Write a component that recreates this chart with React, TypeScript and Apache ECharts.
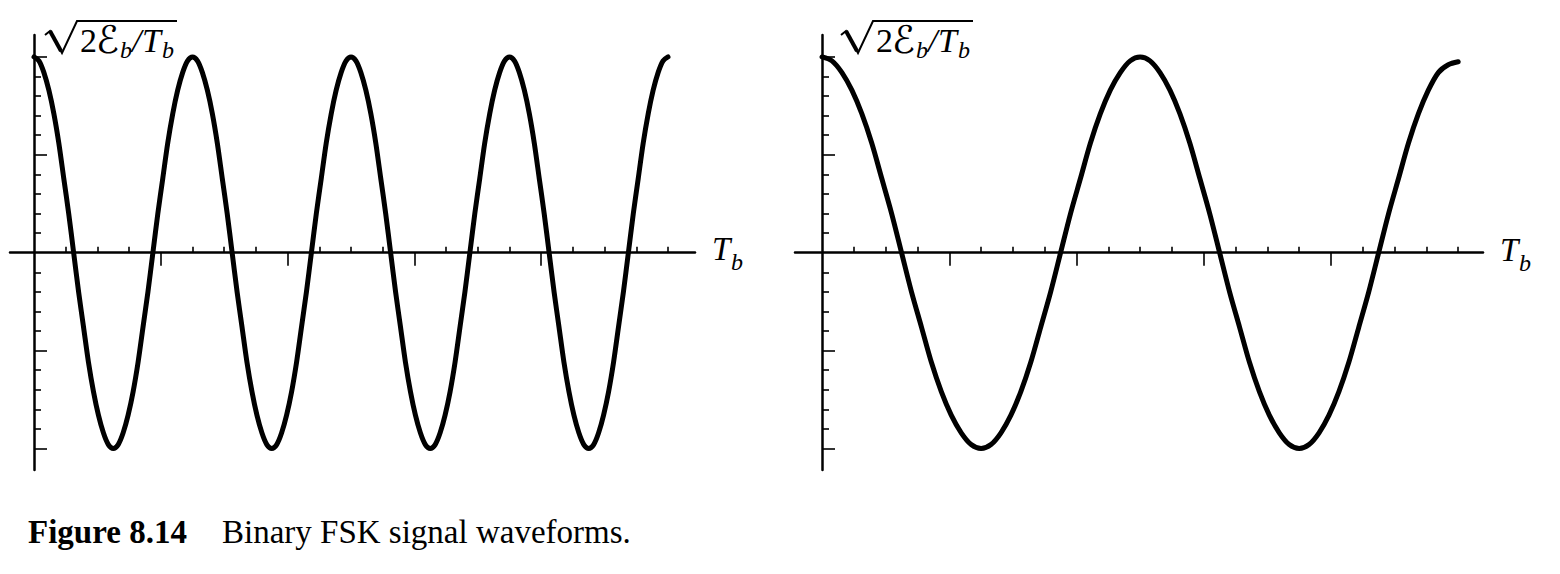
import React, { useEffect, useRef } from "react";
import * as echarts from "echarts";

// Sample points (time in units of T_b, amplitude in units of sqrt(2Eb/Tb))
const leftT = [
  0, 0.0078, 0.0156, 0.0234, 0.0313, 0.0391, 0.0469, 0.0547, 0.0625, 0.0703, 0.0781, 0.0859,
  0.0938, 0.1016, 0.1094, 0.1172, 0.125, 0.1328, 0.1406, 0.1484, 0.1563, 0.1641, 0.1719, 0.1797,
  0.1875, 0.1953, 0.2031, 0.2109, 0.2188, 0.2266, 0.2344, 0.2422, 0.25, 0.2578, 0.2656, 0.2734,
  0.2813, 0.2891, 0.2969, 0.3047, 0.3125, 0.3203, 0.3281, 0.3359, 0.3438, 0.3516, 0.3594, 0.3672,
  0.375, 0.3828, 0.3906, 0.3984, 0.4063, 0.4141, 0.4219, 0.4297, 0.4375, 0.4453, 0.4531, 0.4609,
  0.4688, 0.4766, 0.4844, 0.4922, 0.5, 0.5078, 0.5156, 0.5234, 0.5313, 0.5391, 0.5469, 0.5547,
  0.5625, 0.5703, 0.5781, 0.5859, 0.5938, 0.6016, 0.6094, 0.6172, 0.625, 0.6328, 0.6406, 0.6484,
  0.6563, 0.6641, 0.6719, 0.6797, 0.6875, 0.6953, 0.7031, 0.7109, 0.7188, 0.7266, 0.7344, 0.7422,
  0.75, 0.7578, 0.7656, 0.7734, 0.7813, 0.7891, 0.7969, 0.8047, 0.8125, 0.8203, 0.8281, 0.8359,
  0.8438, 0.8516, 0.8594, 0.8672, 0.875, 0.8828, 0.8906, 0.8984, 0.9063, 0.9141, 0.9219, 0.9297,
  0.9375, 0.9453, 0.9531, 0.9609, 0.9688, 0.9766, 0.9844, 0.9922, 1,
];
const leftV = [
  1, 0.98, 0.92, 0.83, 0.71, 0.56, 0.38, 0.2, 0, -0.2, -0.38, -0.56, -0.71, -0.83, -0.92, -0.98,
  -1, -0.98, -0.92, -0.83, -0.71, -0.56, -0.38, -0.2, 0, 0.2, 0.38, 0.56, 0.71, 0.83, 0.92, 0.98,
  1, 0.98, 0.92, 0.83, 0.71, 0.56, 0.38, 0.2, 0, -0.2, -0.38, -0.56, -0.71, -0.83, -0.92, -0.98,
  -1, -0.98, -0.92, -0.83, -0.71, -0.56, -0.38, -0.2, 0, 0.2, 0.38, 0.56, 0.71, 0.83, 0.92, 0.98,
  1, 0.98, 0.92, 0.83, 0.71, 0.56, 0.38, 0.2, 0, -0.2, -0.38, -0.56, -0.71, -0.83, -0.92, -0.98,
  -1, -0.98, -0.92, -0.83, -0.71, -0.56, -0.38, -0.2, 0, 0.2, 0.38, 0.56, 0.71, 0.83, 0.92, 0.98,
  1, 0.98, 0.92, 0.83, 0.71, 0.56, 0.38, 0.2, 0, -0.2, -0.38, -0.56, -0.71, -0.83, -0.92, -0.98,
  -1, -0.98, -0.92, -0.83, -0.71, -0.56, -0.38, -0.2, 0, 0.2, 0.38, 0.56, 0.71, 0.83, 0.92, 0.98,
  1,
];
const rightT = [
  0, 0.0156, 0.0313, 0.0469, 0.0625, 0.0781, 0.0938, 0.1094, 0.125, 0.1406, 0.1563, 0.1719,
  0.1875, 0.2031, 0.2188, 0.2344, 0.25, 0.2656, 0.2813, 0.2969, 0.3125, 0.3281, 0.3438, 0.3594,
  0.375, 0.3906, 0.4063, 0.4219, 0.4375, 0.4531, 0.4688, 0.4844, 0.5, 0.5156, 0.5313, 0.5469,
  0.5625, 0.5781, 0.5938, 0.6094, 0.625, 0.6406, 0.6563, 0.6719, 0.6875, 0.7031, 0.7188, 0.7344,
  0.75, 0.7656, 0.7813, 0.7969, 0.8125, 0.8281, 0.8438, 0.8594, 0.875, 0.8906, 0.9063, 0.9219,
  0.9375, 0.9531, 0.9688, 0.9844, 1,
];
const rightV = [
  1, 0.98, 0.92, 0.83, 0.71, 0.56, 0.38, 0.2, 0, -0.2, -0.38, -0.56, -0.71, -0.83, -0.92, -0.98,
  -1, -0.98, -0.92, -0.83, -0.71, -0.56, -0.38, -0.2, 0, 0.2, 0.38, 0.56, 0.71, 0.83, 0.92, 0.98,
  1, 0.98, 0.92, 0.83, 0.71, 0.56, 0.38, 0.2, 0, -0.2, -0.38, -0.56, -0.71, -0.83, -0.92, -0.98,
  -1, -0.98, -0.92, -0.83, -0.71, -0.56, -0.38, -0.2, 0, 0.2, 0.38, 0.56, 0.71, 0.83, 0.92, 0.96,
  0.975,
];

// Tick marks
const xMinorTicks = [0.05, 0.1, 0.15, 0.25, 0.3, 0.35, 0.45, 0.5, 0.55, 0.65, 0.7, 0.75, 0.85, 0.9, 0.95, 1];
const xMajorTicks = [0.2, 0.4, 0.6, 0.8];
const yMinorTicks = [-0.9, -0.8, -0.7, -0.6, -0.4, -0.3, -0.2, -0.1, 0.1, 0.2, 0.3, 0.4, 0.6, 0.7, 0.8, 0.9];
const yMajorTicks = [-1, -0.5, 0.5, 1];

const amplitudeLabel = ["2", "ℰ", "b", "/", "T", "b"];
const timeLabel = ["T", "b"];
const captionBold = "Figure 8.14";
const captionText = "Binary FSK signal waveforms.";

const SERIF = '"Liberation Serif", "Times New Roman", "DejaVu Serif", serif';

function txt(x: number, baseline: number, text: string, size: number, fontStyle = "normal", fontWeight = "normal", family = SERIF) {
  return {
    type: "text",
    x,
    y: baseline - 0.3375 * size,
    silent: true,
    style: {
      text,
      fontSize: size,
      fontFamily: family,
      fontStyle,
      fontWeight,
      fill: "#000",
      align: "left",
      verticalAlign: "middle",
    },
  };
}

function radicalLabel(dx: number) {
  const [two, E, b1, slash, T, b2] = amplitudeLabel;
  return [
    {
      type: "polyline",
      silent: true,
      shape: { points: [[45 + dx, 35], [50 + dx, 31], [62 + dx, 53], [77 + dx, 21], [177 + dx, 21]] },
      style: { stroke: "#000", lineWidth: 2, fill: null, lineJoin: "miter" },
    },
    {
      type: "line",
      silent: true,
      shape: { x1: 50 + dx, y1: 31, x2: 61 + dx, y2: 51 },
      style: { stroke: "#000", lineWidth: 4 },
    },
    txt(80 + dx, 52, two, 34),
    txt(96 + dx, 53, E, 38, "normal", "normal", '"DejaVu Serif", "DejaVu Sans", serif'),
    txt(120 + dx, 58, b1, 24, "italic"),
    txt(132 + dx, 52, slash, 34, "italic"),
    txt(142 + dx, 52, T, 34, "italic"),
    txt(162 + dx, 58, b2, 24, "italic"),
  ];
}

function timeLbl(x: number, baseline: number) {
  return [txt(x, baseline, timeLabel[0], 33, "italic"), txt(x + 19, baseline + 10, timeLabel[1], 24, "italic")];
}

function axesFor(gridIndex: number, xmin: number, xmax: number) {
  const tickStyle = { color: "#000", width: 1.6 };
  const common = { type: "value", gridIndex, axisLabel: { show: false }, splitLine: { show: false } };
  const xAxes = [
    {
      ...common,
      min: xmin,
      max: xmax,
      axisLine: { show: true, onZero: true, onZeroAxisIndex: gridIndex * 2, lineStyle: { color: "#000", width: 2.5 } },
      axisTick: { show: true, inside: true, length: 6, customValues: xMinorTicks, lineStyle: tickStyle },
    },
    {
      ...common,
      min: xmin,
      max: xmax,
      axisLine: { show: false, onZero: true, onZeroAxisIndex: gridIndex * 2 + 1 },
      axisTick: { show: true, inside: true, length: 13, customValues: xMajorTicks, lineStyle: tickStyle },
    },
  ];
  const yAxes = [
    {
      ...common,
      min: -1.11,
      max: 1.112,
      position: "left",
      axisLine: { show: true, onZero: true, onZeroAxisIndex: gridIndex * 2, lineStyle: { color: "#000", width: 2.5 } },
      axisTick: { show: true, inside: true, length: 7, customValues: yMinorTicks, lineStyle: tickStyle },
    },
    {
      ...common,
      min: -1.11,
      max: 1.112,
      position: "left",
      axisLine: { show: false, onZero: true, onZeroAxisIndex: gridIndex * 2 + 1 },
      axisTick: { show: true, inside: true, length: 13, customValues: yMajorTicks, lineStyle: tickStyle },
    },
  ];
  return { xAxes, yAxes };
}

export default function App() {
  const ref = useRef<HTMLDivElement>(null);
  useEffect(() => {
    if (!ref.current) return;
    const chart = echarts.init(ref.current, null, { renderer: "svg" });
    const a = axesFor(0, -0.0379, 1.0426);
    const b = axesFor(1, -0.0425, 1.039);
    const lineStyle = { color: "#000", width: 5, cap: "round", join: "round" };
    chart.setOption({
      animation: false,
      backgroundColor: "#fff",
      grid: [
        { left: 10, top: 35, width: 685, height: 435, containLabel: false },
        { left: 795, top: 35, width: 688, height: 435, containLabel: false },
      ],
      xAxis: [...a.xAxes, ...b.xAxes],
      yAxis: [...a.yAxes, ...b.yAxes],
      series: [
        {
          type: "line",
          xAxisIndex: 0,
          yAxisIndex: 0,
          smooth: 0.3,
          symbol: "none",
          lineStyle,
          data: leftT.map((t, i) => [t, leftV[i]]),
        },
        {
          type: "line",
          xAxisIndex: 2,
          yAxisIndex: 2,
          smooth: 0.3,
          symbol: "none",
          lineStyle,
          data: rightT.map((t, i) => [t, rightV[i]]),
        },
      ],
      graphic: [
        ...radicalLabel(0),
        ...radicalLabel(796),
        ...timeLbl(712, 260),
        ...timeLbl(1500, 261),
        txt(28, 543, captionBold, 33, "normal", "bold"),
        txt(222, 543, captionText, 33),
      ],
    });
    return () => chart.dispose();
  }, []);
  return <div ref={ref} style={{ position: "fixed", left: 0, top: 0, width: 1560, height: 574 }} />;
}
